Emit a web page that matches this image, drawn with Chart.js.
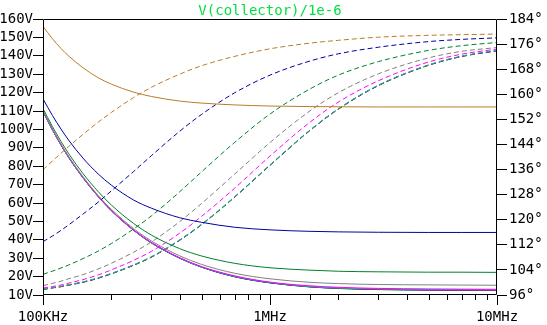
<!DOCTYPE html>
<html><head><meta charset="utf-8">
<script src="https://cdn.jsdelivr.net/npm/chart.js@4.4.1/dist/chart.umd.min.js"></script>
<style>html,body{margin:0;padding:0;background:#fff;overflow:hidden}canvas{display:block}</style>
</head><body>
<canvas id="c" width="547" height="325"></canvas>
<script>
const titleText = 'V(collector)/1e-6';
const freqs = [1e5, 1.1e5, 1.2e5, 1.3e5, 1.5e5, 1.75e5, 2e5, 2.5e5, 3e5, 4e5, 5e5, 7e5, 1e6, 1.5e6, 2e6, 3e6, 5e6, 7e6, 1e7];
const xTickLabels = {'100000': '100KHz', '1000000': '1MHz', '10000000': '10MHz'};
const leftTickUnit = 'V';
const rightTickUnit = '°';

// magnitude (V), left axis
const magBrown   = [156.0, 149.3, 144.0, 139.8, 133.5, 128.1, 124.6, 120.3, 117.9, 115.4, 114.3, 113.3, 112.7, 112.4, 112.3, 112.2, 112.2, 112.2, 112.2];
const magNavy    = [116.6, 107.6, 100.2, 94.0, 84.4, 75.8, 69.7, 61.7, 57.2, 52.0, 49.5, 46.8, 45.4, 44.6, 44.3, 44.1, 44.0, 44.0, 44.0];
const magDkGreen = [111.3, 101.6, 93.5, 86.7, 76.0, 66.2, 58.9, 49.0, 42.6, 35.2, 31.2, 27.2, 24.8, 23.5, 22.9, 22.6, 22.4, 22.4, 22.3];
const magGray    = [110.1, 100.3, 92.1, 85.2, 74.3, 64.1, 56.6, 46.2, 39.4, 31.3, 26.6, 21.8, 18.8, 16.9, 16.2, 15.7, 15.5, 15.4, 15.3];
const magMagenta = [109.8, 100.0, 91.7, 84.8, 73.9, 63.7, 56.0, 45.5, 38.6, 30.3, 25.4, 20.4, 17.0, 15.0, 14.2, 13.6, 13.3, 13.2, 13.1];
const magCyan    = [109.7, 99.9, 91.7, 84.7, 73.8, 63.6, 55.9, 45.4, 38.4, 30.1, 25.2, 20.1, 16.8, 14.6, 13.8, 13.3, 13.0, 12.9, 12.8];
const magRed     = [109.7, 99.9, 91.6, 84.7, 73.8, 63.6, 55.9, 45.4, 38.4, 30.1, 25.2, 20.0, 16.7, 14.5, 13.7, 13.1, 12.8, 12.7, 12.6];
const magBlue    = [109.6, 99.8, 91.6, 84.6, 73.7, 63.5, 55.8, 45.3, 38.3, 30.0, 25.1, 19.9, 16.6, 14.4, 13.6, 13.0, 12.7, 12.6, 12.5];
const magGreen   = [109.6, 99.8, 91.5, 84.6, 73.7, 63.5, 55.8, 45.3, 38.3, 30.0, 25.1, 19.9, 16.6, 14.4, 13.5, 12.9, 12.6, 12.5, 12.4];

// phase (degrees), right axis
const phBrown   = [136.0, 138.7, 141.2, 143.4, 147.2, 151.1, 154.2, 158.9, 162.2, 166.4, 169.1, 172.1, 174.5, 176.3, 177.2, 178.2, 178.8, 179.0, 179.2];
const phNavy    = [113.0, 114.8, 116.6, 118.4, 121.8, 125.6, 129.2, 135.3, 140.4, 148.2, 153.6, 160.5, 166.1, 170.6, 172.9, 175.0, 176.8, 177.5, 178.0];
const phDkGreen = [102.6, 103.6, 104.6, 105.6, 107.6, 110.0, 112.4, 117.0, 121.2, 128.9, 135.3, 144.7, 153.7, 161.7, 166.1, 170.4, 174.0, 175.5, 176.5];
const phGray    = [99.0, 99.7, 100.4, 101.2, 102.5, 104.3, 106.1, 109.6, 112.9, 119.4, 125.2, 134.6, 144.6, 154.7, 160.5, 166.5, 171.6, 173.7, 174.9];
const phMagenta = [98.2, 98.7, 99.2, 99.8, 100.9, 102.4, 104.0, 107.0, 109.9, 115.7, 121.1, 130.1, 140.3, 151.1, 157.5, 164.3, 170.3, 172.8, 174.4];
const phCyan    = [97.9, 98.4, 98.8, 99.3, 100.2, 101.5, 102.9, 105.6, 108.2, 113.6, 118.6, 127.4, 137.5, 148.6, 155.4, 162.9, 169.4, 172.2, 174.0];
const phRed     = [97.8, 98.3, 98.7, 99.2, 100.1, 101.4, 102.8, 105.5, 108.1, 113.5, 118.5, 127.3, 137.4, 148.5, 155.3, 162.8, 169.3, 172.1, 173.9];
const phBlue    = [97.8, 98.3, 98.7, 99.2, 100.1, 101.4, 102.8, 105.5, 108.1, 113.5, 118.5, 127.3, 137.4, 148.5, 155.3, 162.8, 169.3, 172.1, 173.9];
const phGreen   = [97.7, 98.2, 98.6, 99.1, 100.0, 101.3, 102.7, 105.4, 108.0, 113.4, 118.4, 127.2, 137.3, 148.4, 155.2, 162.7, 169.2, 172.0, 173.8];

const traces = [
  ['#b87c28', magBrown, phBrown],
  ['#0000a0', magNavy, phNavy],
  ['#00802a', magDkGreen, phDkGreen],
  ['#808080', magGray, phGray],
  ['#ff00ff', magMagenta, phMagenta],
  ['#00c0c0', magCyan, phCyan],
  ['#ff0000', magRed, phRed],
  ['#0000ff', magBlue, phBlue],
  ['#00ff00', magGreen, phGreen]
];

const datasets = [];
traces.forEach(([color, mag, ph]) => {
  datasets.push({data: freqs.map((f, i) => ({x: f, y: mag[i]})), yAxisID: 'y', borderColor: color,
    borderWidth: 1, pointRadius: 0, cubicInterpolationMode: 'monotone', fill: false});
  datasets.push({data: freqs.map((f, i) => ({x: f, y: ph[i]})), yAxisID: 'y1', borderColor: color,
    borderWidth: 1, borderDash: [5, 3], pointRadius: 0, cubicInterpolationMode: 'monotone', fill: false});
});

const font = {family: 'DejaVu Sans Mono', size: 14};
const isDecade = v => Math.abs(Math.log10(v) - Math.round(Math.log10(v))) < 1e-9;

const framePlugin = {
  id: 'frame',
  afterDraw(chart) {
    const {ctx, chartArea: a} = chart;
    const x = chart.scales.x;
    ctx.save();
    ctx.strokeStyle = '#000';
    ctx.lineWidth = 1;
    ctx.beginPath();
    ctx.moveTo(a.left + 0.5, a.top + 0.5); ctx.lineTo(a.right - 0.5, a.top + 0.5);
    ctx.lineTo(a.right - 0.5, a.bottom - 0.5); ctx.lineTo(a.left + 0.5, a.bottom - 0.5);
    ctx.closePath();
    ctx.stroke();
    // minor ticks on the frequency axis
    ctx.beginPath();
    x.ticks.forEach(t => {
      if (!isDecade(t.value)) {
        const px = Math.round(x.getPixelForValue(t.value)) + 0.5;
        ctx.moveTo(px, a.bottom - 0.5); ctx.lineTo(px, a.bottom + 5);
      }
    });
    ctx.stroke();
    // title
    ctx.fillStyle = '#00e040';
    ctx.font = '14px "DejaVu Sans Mono"';
    ctx.textAlign = 'center';
    ctx.textBaseline = 'alphabetic';
    ctx.fillText(titleText, (a.left + a.right) / 2, 15);
    ctx.restore();
  }
};

new Chart(document.getElementById('c'), {
  type: 'line',
  data: {datasets},
  options: {
    responsive: false, animation: false, devicePixelRatio: 1,
    layout: {padding: {top: 19, left: 0, right: 0, bottom: 0}},
    plugins: {legend: {display: false}, tooltip: {enabled: false}, title: {display: false}},
    scales: {
      x: {
        type: 'logarithmic', position: 'bottom', min: 1e5, max: 1e7,
        grid: {drawOnChartArea: false, drawTicks: true, tickLength: 10, color: '#000',
               tickColor: c => (c.tick && isDecade(c.tick.value)) ? '#000' : 'rgba(0,0,0,0)'},
        border: {display: false},
        ticks: {autoSkip: false, maxRotation: 0, minRotation: 0, padding: 4, color: '#000', font,
                callback: v => xTickLabels[String(Math.round(v))] || ''},
        afterFit: s => { s.height = 30; }
      },
      y: {
        position: 'left', min: 10, max: 160,
        grid: {drawOnChartArea: false, tickLength: 10, color: '#000'},
        border: {display: false},
        ticks: {stepSize: 10, autoSkip: false, padding: 0, color: '#000', font, callback: v => v + leftTickUnit},
        afterFit: s => { s.width = 43; }
      },
      y1: {
        position: 'right', min: 96, max: 184,
        grid: {drawOnChartArea: false, tickLength: 10, color: '#000'},
        border: {display: false},
        ticks: {stepSize: 8, autoSkip: false, padding: 2, color: '#000', font, callback: v => v + rightTickUnit},
        afterFit: s => { s.width = 50; }
      }
    }
  },
  plugins: [framePlugin]
});
</script>
</body></html>
